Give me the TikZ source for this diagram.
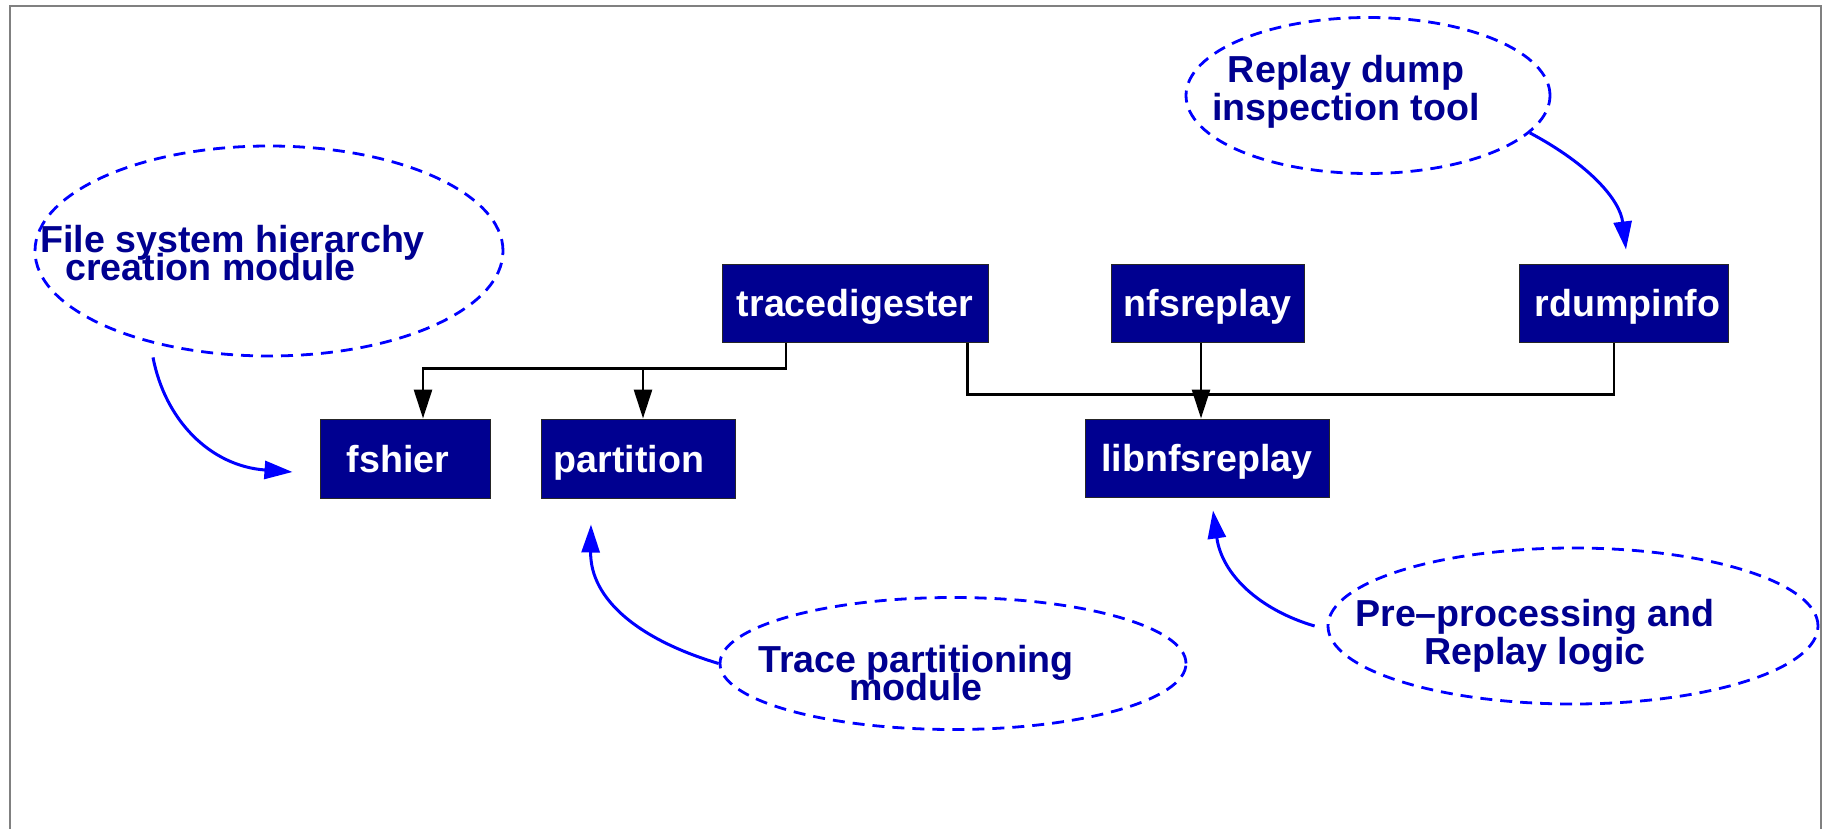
\documentclass[tikz,border=0pt]{standalone}
\usepackage{fontspec}
\setmainfont{Liberation Sans}
\usetikzlibrary{arrows.meta,shapes.geometric,calc}
\definecolor{boxblue}{RGB}{0,0,144}
\definecolor{linkblue}{RGB}{0,0,255}
\definecolor{framegray}{RGB}{128,128,128}

\tikzset{
  module/.style={draw=black!85, line width=0.5pt, fill=boxblue, text=white,
    font=\fontsize{18.8pt}{22pt}\selectfont\bfseries, inner sep=0pt,
    text height=13.7pt, text depth=0pt},
  note/.style={ellipse, draw=linkblue, line width=1.4pt,
    dash pattern=on 6pt off 4pt, inner sep=0pt},
  notetext/.style={text=boxblue, inner sep=0pt,
    font=\fontsize{18.8pt}{#1}\selectfont\bfseries},
  notetext/.default=19pt,
  wire/.style={line width=1.4pt, draw=black},
  feed/.style={wire, -{Triangle[length=14.5pt,width=9pt]}},
  pointer/.style={line width=1.5pt, draw=linkblue,
    -{Triangle[length=14pt,width=9pt]}, fill=none},
}

\begin{document}
\begin{tikzpicture}[x=0.5pt,y=-0.5pt]
\lineskiplimit=-100pt
\useasboundingbox (0,0) rectangle (1827,829);
\draw[framegray, line width=1pt] (10,829) -- (10,6) -- (1821,6) -- (1821,829);

% program modules (a leading/trailing kern nudges a label off-centre)
\node[module, minimum width=85pt,   minimum height=39.5pt] (fshier)        at (405,458.5)  {\kern-7pt fshier};
\node[module, minimum width=97pt,   minimum height=39.5pt] (partition)     at (638,458.5)  {\kern-9pt partition};
\node[module, minimum width=133pt,  minimum height=39pt]   (tracedigester) at (855,303)    {tracedigester};
\node[module, minimum width=96.5pt, minimum height=39pt]   (nfsreplay)     at (1207.5,303) {nfsreplay};
\node[module, minimum width=104.5pt,minimum height=39pt]   (rdumpinfo)     at (1623.5,303) {rdumpinfo\kern-4pt};
\node[module, minimum width=122pt,  minimum height=39pt]   (libnfsreplay)  at (1207,458)   {libnfsreplay};

% annotation bubbles
\node[note, minimum width=234pt, minimum height=105pt] (fsnote) at (269,251)   {};
\node[note, minimum width=182pt, minimum height=78pt]  (rdnote) at (1368,95.5) {};
\node[note, minimum width=233pt, minimum height=66pt]  (tpnote) at (953,663.5) {};
\node[note, minimum width=245pt, minimum height=78pt]  (ppnote) at (1573,626)  {};

% (the base anchor of a two-line note sits on its last line)
\node[notetext=14pt, align=left, anchor=base west] (fstext) at (40,280)
  {File system hierarchy\\\kern12.5pt creation module};
\node[notetext=19pt, align=center, anchor=base] (rdtext) at (1346,121)
  {Replay dump\\inspection tool};
\node[notetext=14pt, align=center, anchor=base] (tptext) at (916,700)
  {Trace partitioning\\module};
\node[notetext=19pt, align=center, anchor=base] (pptext) at (1535,664)
  {Pre–processing and\\Replay logic};

% dependencies between modules
\draw[feed] ([xshift=-34.5pt]tracedigester.south) -- ++(0,26) coordinate (busL)
  -| ([xshift=9pt]fshier.north);
\coordinate (partin) at ([xshift=2.5pt]partition.north);
\draw[feed] (partin |- busL) -- (partin);

\draw[wire] ([xshift=-10.5pt]tracedigester.south east) -- ++(0,52)
  -| ([xshift=-4.75pt]rdumpinfo.south);
\coordinate (nfsout) at ([xshift=-3.25pt]nfsreplay.south);
\draw[feed] (nfsout) -- (nfsout |- libnfsreplay.north);

% annotation pointers
\draw[pointer] ([xshift=-58pt]fsnote.south) .. controls (165,420) and (210,466)
  .. ([shift={(-13.5pt,-6.75pt)}]fshier.west);
\draw[pointer] (tpnote.west) .. controls (640,640) and (590,600)
  .. ([shift={(-23.5pt,-13pt)}]partition.south);
\draw[pointer] ([xshift=-6pt]ppnote.west) .. controls (1260,610) and (1222,575)
  .. ([shift={(3pt,-6.5pt)}]libnfsreplay.south);
\draw[pointer] (rdnote.-13) .. controls (1590,165) and (1620,200)
  .. ([shift={(1.25pt,7pt)}]rdumpinfo.north);
\end{tikzpicture}
\end{document}
